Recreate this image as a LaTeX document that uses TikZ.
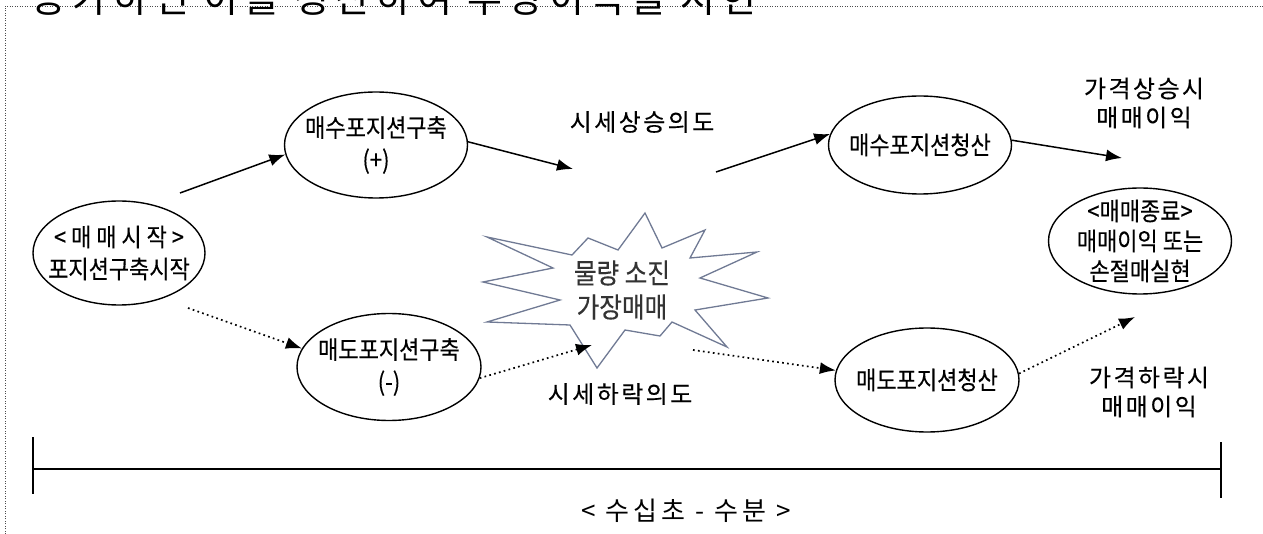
\documentclass[tikz,border=0pt]{standalone}
\usepackage{fontspec}
\setmainfont{Noto Sans CJK KR}
\newfontfamily\kr{Noto Sans CJK KR}
\newfontfamily\krc[FakeStretch=0.88,FakeBold=0.3]{Noto Sans CJK KR}
\newfontfamily\krsp[LetterSpace=10,FakeBold=0.3]{Noto Sans CJK KR}
\newfontfamily\krwide[LetterSpace=16]{Noto Sans CJK KR}
\usetikzlibrary{arrows.meta,shapes.geometric}
\definecolor{starcol}{RGB}{112,122,148}
\begin{document}
\begin{tikzpicture}[x=1pt,y=-1pt,
  ell/.style={draw, ellipse, line width=1.4pt, inner sep=0pt},
  etext/.style={align=center, inner sep=0pt, font=\krc\fontsize{25}{32}\selectfont},
  sarrow/.style={line width=1.5pt, -{Latex[length=16pt,width=12pt]}},
  darrow/.style={line width=1.7pt, dash pattern=on 1.7pt off 3.3pt, -{Latex[length=16pt,width=12pt]}},
  lbl/.style={align=center, inner sep=0pt, font=\krsp\fontsize{24}{29}\selectfont},
  starline/.style={draw=starcol, line width=1.3pt, fill=white, line join=miter},
  frame/.style={draw=black!70, line width=0.8pt, dash pattern=on 1pt off 1.5pt}
]
\useasboundingbox (0,0) rectangle (1263,534);
\clip (0,0) rectangle (1263,534);

% frame and clipped title
\draw[frame] (5,534) -- (5,6) -- (1263,6);
\node[anchor=base west, inner sep=0pt, font=\krwide\fontsize{38}{38}\selectfont] (title) at (31,13) {증가하면 이를 청산하여 부당이득을 시현};

% star
\draw[starline] (483,282) -- (553,268) -- (487,237) -- (572,255) -- (588,238) -- (618,250)
  -- (645,213) -- (662,248) -- (705,230) -- (690,258) -- (757,252) -- (700,278)
  -- (768,298) -- (695,310) -- (727,347) -- (672,322) -- (660,336) -- (625,330)
  -- (597,368) -- (570,325) -- (487,322) -- (560,300) -- cycle;
\node[align=center, inner sep=0pt, text=black!80, font=\krc\fontsize{28}{34}\selectfont] (S) at (622,290) {물량 소진\\가장매매};

% ellipses (shapes) and their texts
\node[ell, minimum width=172pt, minimum height=104pt] (A) at (119,253) {};
\node[etext] (At) at (A.center) {< 매 매 시 작 >\\포지션구축시작};
\node[ell, minimum width=183pt, minimum height=106pt] (B) at (376,145) {};
\node[etext] (Bt) at (B.center) {매수포지션구축\\(+)};
\node[ell, minimum width=183pt, minimum height=98pt] (C) at (920,145) {};
\node[etext] (Ct) at (C.center) {매수포지션청산};
\node[ell, minimum width=184pt, minimum height=107pt] (F) at (389,367) {};
\node[etext] (Ft) at (F.center) {매도포지션구축\\(-)};
\node[ell, minimum width=184pt, minimum height=104pt] (D) at (927,380) {};
\node[etext] (Dt) at (D.center) {매도포지션청산};
\node[ell, minimum width=183pt, minimum height=106pt] (E) at (1140,241) {};
\node[etext, font=\krc\fontsize{25}{30}\selectfont] (Et) at (E.center) {<매매종료>\\매매이익 또는\\손절매실현};

% labels
\node[lbl] (up) at (642,122) {시세상승의도};
\node[lbl] (down) at (620,394) {시세하락의도};
\node[lbl] (upP) at (1144,103) {가격상승시\\매매이익};
\node[lbl] (downP) at (1149,392) {가격하락시\\매매이익};

% connector ends
\coordinate (a1) at (180,193);
\coordinate (b1) at (573,169);
\coordinate (c0) at (716,172);
\coordinate (c1) at (1122,158);
\coordinate (a2) at (188,308);
\coordinate (f1) at (592,345);
\coordinate (s1) at (693,350);
\coordinate (e1) at (1135,317);

\draw[sarrow] (a1) -- (B.186);
\draw[sarrow] (B.2) -- (b1);
\draw[sarrow] (c0) -- (C.173);
\draw[sarrow] (C.3) -- (c1);
\draw[darrow] (a2) -- (F.168);
\draw[darrow] (F.353) -- (f1);
\draw[darrow] (s1) -- (D.174);
\draw[darrow] (D.4) -- (e1);

% timeline
\coordinate (tl) at (33,469);
\coordinate (tr) at (1221,469);
\draw[line width=2pt] (tl) -- (tr);
\draw[line width=1.4pt] (33,437) -- (33,494);
\draw[line width=1.4pt] (1221,442) -- (1221,498);
\node[inner sep=0pt, font=\krwide\fontsize{26}{26}\selectfont] (time) at (686,511) {< 수십초 - 수분 >};
\end{tikzpicture}
\end{document}
